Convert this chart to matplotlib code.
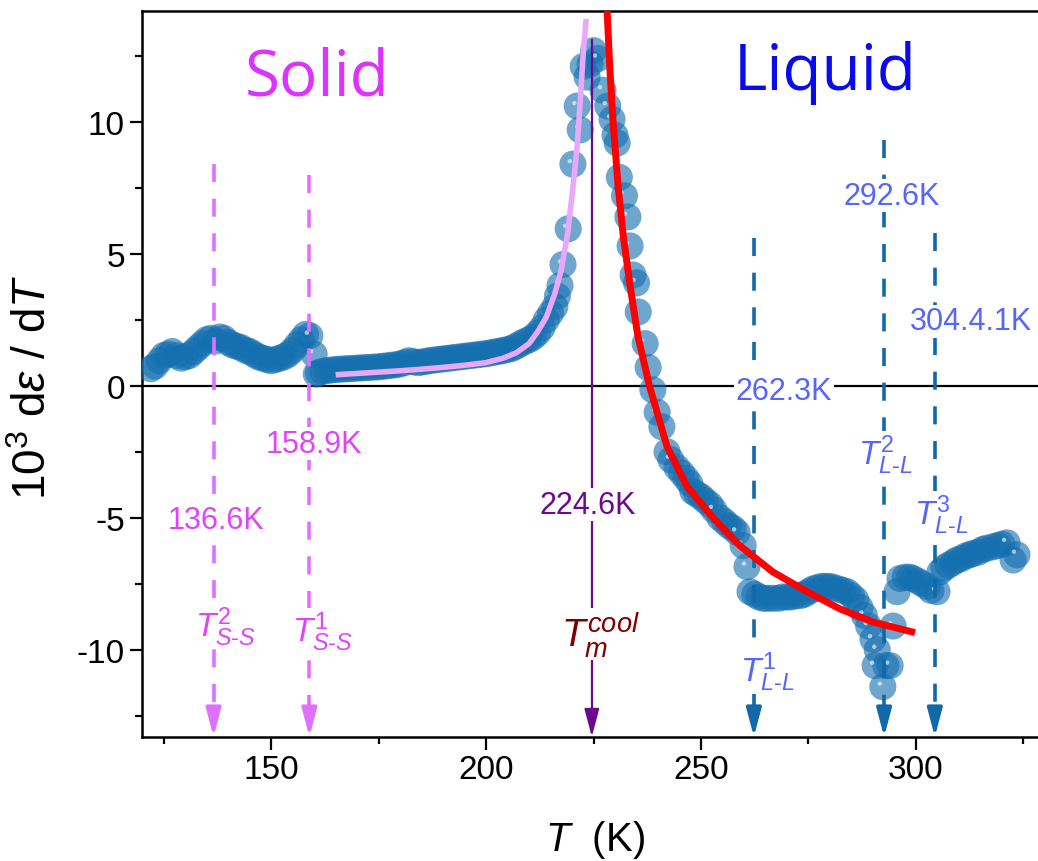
import numpy as np
import matplotlib
matplotlib.use("Agg")
import matplotlib.pyplot as plt
from matplotlib.patches import ArrowStyle

plt.rcParams['font.family'] = ['Liberation Sans', 'DejaVu Sans']
plt.rcParams['mathtext.fontset'] = 'custom'
plt.rcParams['mathtext.rm'] = 'Liberation Sans'
plt.rcParams['mathtext.it'] = 'Liberation Sans:italic'
plt.rcParams['mathtext.bf'] = 'Liberation Sans:bold'
plt.rcParams['axes.unicode_minus'] = False

# measured d(strain)/dT on cooling, x10^3
temp = [122, 123, 124, 125, 126, 127, 128, 129, 130, 131, 132, 133, 134, 135, 136, 137, 138, 139,
        140, 141, 142, 143, 144, 145, 146, 147, 148, 149, 150, 151, 152, 153, 154, 155, 156, 157,
        158, 159, 160, 160.5,
        161, 162, 163, 164, 165, 166, 167, 168, 169, 170, 171, 172, 173, 174, 175, 176, 177, 178,
        179, 180, 181, 182, 183, 184, 185, 186, 187, 188, 189, 190, 191, 192, 193, 194, 195, 196,
        197, 198, 199, 200, 201, 202, 203, 204, 205, 206, 207, 208, 209, 210, 211, 212, 213, 214,
        215, 216, 216.6, 217.2, 217.9, 219.1, 220.2, 221.2, 221.9, 222.6, 223.5, 224.2, 225, 226,
        227.2, 228.3, 229.3, 230, 230.5, 231, 232.2, 233, 233.5, 234.2, 235, 235.4, 237, 237.7,
        238.8, 239.8, 240.9, 242.1, 243, 244.4, 245.5, 246.5, 247.4, 248.1, 249, 250, 251, 252.1,
        253, 254.4, 255.5, 256.5, 257.5, 258.4, 259.8, 260.7, 261.4, 262.5, 263.5, 264.5, 265.5,
        266.7, 268, 269, 270, 271, 272, 273, 274, 275, 276, 277, 278, 279, 280, 281, 282, 283, 284,
        285, 286, 287, 288, 289, 290, 291, 290.5, 292.3, 293, 294, 294.7, 295.6, 296.3, 297.5,
        298.5, 299.3, 300.5, 301.5, 302.6, 303.5, 304.9, 305.6, 306.5, 307.5, 308.6, 309.5, 310.5,
        311.5, 312.5, 313.3, 314.5, 315.5, 316.5, 317.9, 319, 320, 321.2, 322.6, 323.5]
deps = [0.65, 0.75, 0.95, 1.15, 1.2, 1.3, 1.15, 1.05, 1.1, 1.15, 1.3, 1.45, 1.6, 1.75, 1.8, 1.7,
        1.85, 1.8, 1.65, 1.55, 1.5, 1.45, 1.35, 1.3, 1.2, 1.1, 1.05, 1.0, 0.95, 1.0, 1.05, 1.1,
        1.2, 1.35, 1.55, 1.75, 1.95, 1.9, 1.2, 0.45,
        0.5, 0.55, 0.58, 0.6, 0.62, 0.63, 0.64, 0.65, 0.66, 0.67, 0.68, 0.69, 0.7, 0.71, 0.72,
        0.74, 0.76, 0.78, 0.8, 0.83, 0.88, 0.95, 0.92, 0.88, 0.9, 0.93, 0.96, 0.98, 1.0, 1.02,
        1.04, 1.06, 1.08, 1.1, 1.12, 1.14, 1.16, 1.18, 1.2, 1.22, 1.25, 1.28, 1.31, 1.34, 1.38,
        1.42, 1.5, 1.6, 1.68, 1.75, 1.85, 2.0, 2.2, 2.5, 2.75, 3.0, 3.4, 3.8, 4.6, 5.95, 8.4, 10.6,
        9.7, 12.1, 11.7, 12.2, 12.7, 12.4, 11.2, 10.6, 10.1, 9.5, 9.2, 7.9, 7.2, 6.4, 5.3, 4.2,
        3.9, 2.8, 1.6, 0.7, -0.15, -1.0, -1.55, -2.5, -2.8, -3.1, -3.3, -3.5, -3.7, -4.0, -4.1,
        -4.2, -4.35, -4.5, -4.7, -5.0, -5.15, -5.3, -5.4, -5.55, -6.05, -6.85, -7.8, -7.9, -8.0,
        -8.05, -8.05, -8.05, -8.05, -8.0, -8.0, -8.0, -7.95, -7.95, -7.9, -7.8, -7.7, -7.65, -7.6,
        -7.6, -7.6, -7.65, -7.7, -7.75, -7.8, -7.95, -8.1, -8.4, -8.7, -9.1, -9.6, -10.0, -10.6,
        -11.4, -10.6, -10.6, -9.1, -7.8, -7.3, -7.25, -7.25, -7.3, -7.4, -7.5, -7.6, -7.75, -7.8,
        -7.05, -6.9, -6.8, -6.7, -6.6, -6.55, -6.45, -6.4, -6.35, -6.3, -6.2, -6.15, -6.1, -6.05,
        -6.0, -5.95, -6.6, -6.4]

# fitted curves below / above the melting point
fit_solid_t = [165, 170, 175, 180, 185, 190, 195, 200, 204, 207, 210, 212, 214, 216, 217.5, 219,
               220.2, 221.2, 222, 222.6, 223.3]
fit_solid_y = [0.42, 0.47, 0.52, 0.57, 0.63, 0.7, 0.78, 0.88, 1.05, 1.25, 1.6, 2.05, 2.6, 3.5,
               4.4, 5.8, 7.5, 9.1, 11.0, 12.6, 13.9]
fit_liq_t = [228.1, 228.8, 229.5, 230.7, 231.9, 233.5, 235.3, 238, 242.1, 246.7, 252.8, 259,
             266.7, 274.7, 282.3, 290, 299.8]
fit_liq_y = [14.4, 12.0, 10.1, 7.6, 5.7, 3.8, 1.9, 0.0, -2.3, -3.8, -5.0, -6.05, -7.05, -7.8,
             -8.45, -8.95, -9.35]

# transition markers: (T, top of arrow)
ss_temps = [136.6, 158.9]
ss_tops = [8.4, 8.0]
ll_temps = [262.3, 292.6, 304.4]
ll_tops = [5.6, 9.3, 5.8]
tm_temp = 224.6
tm_top = 13.1

ymin, ymax = -13.3, 14.2
xmin, xmax = 120, 328.4

pink = '#e070ff'
pink_txt = '#dd44fb'
blue_line = '#1268a8'
blue_txt = '#5566ff'
purple = '#6a0a90'
ball_alpha = 0.62
ball_ms = 19.5

fig = plt.figure(figsize=(10.38, 8.62), dpi=100)
ax = fig.add_axes([0.137, 0.144, 0.863, 0.842])
ax.set_xlim(xmin, xmax)
ax.set_ylim(ymin, ymax)

# semi-transparent balls, drawn in temperature order
ax.scatter(temp, deps, s=ball_ms ** 2, color='#1570b0', alpha=ball_alpha, edgecolors='none', zorder=3)

# glint up-left of a ball, only where no later ball sits on top of it
pix = ax.transData.transform(np.column_stack([temp, deps]))
radius = ball_ms / 72 * fig.dpi / 2
glint_pix = pix + np.array([-3.0, 3.0])
free = []
for i in range(len(pix)):
    d = np.hypot(*(pix[i + 1:] - glint_pix[i]).T)
    free.append(not np.any(d < radius))
glint_xy = ax.transData.inverted().transform(glint_pix[np.array(free)])
ax.scatter(glint_xy[:, 0], glint_xy[:, 1], s=10, color='white', alpha=0.6, edgecolors='none', zorder=3.5)

ax.plot(fit_solid_t, fit_solid_y, color='#eaa8f8', lw=4, solid_capstyle='butt', zorder=5)
ax.plot(fit_liq_t, fit_liq_y, color='#ff0000', lw=5, solid_capstyle='butt', zorder=5)

ax.axhline(0, color='black', lw=1.6, zorder=2)

head = ArrowStyle('-|>', head_length=1.7, head_width=0.45)


def down_arrow(x, top, color, lw, dashes=None):
    line, = ax.plot([x, x], [top, ymin + 0.9], color=color, lw=lw, zorder=4)
    if dashes:
        line.set_dashes(dashes)
    ax.annotate('', xy=(x, ymin), xytext=(x, ymin + 1.0),
                arrowprops=dict(arrowstyle=head, mutation_scale=10, color=color, lw=lw,
                                shrinkA=0, shrinkB=0),
                zorder=4)


for x, top in zip(ss_temps, ss_tops):
    down_arrow(x, top, pink, 2.6, (5.0, 4.6))
for x, top in zip(ll_temps, ll_tops):
    down_arrow(x, top, blue_line, 2.6, (5.0, 4.6))
down_arrow(tm_temp, tm_top, purple, 1.6)

box = dict(fc='white', ec='none', pad=1)
ax.text(137.2, -5.1, '136.6K', color=pink_txt, fontsize=22, ha='center', va='center', bbox=box, zorder=6)
ax.text(160.0, -2.2, '158.9K', color=pink_txt, fontsize=22, ha='center', va='center', bbox=box, zorder=6)
ax.text(139.5, -9.1, r'$T^{2}_{S‐S}$', color=pink_txt, fontsize=24, ha='center', va='center', bbox=box, zorder=6)
ax.text(161.9, -9.3, r'$T^{1}_{S‐S}$', color=pink_txt, fontsize=24, ha='center', va='center', bbox=box, zorder=6)
ax.text(223.7, -4.5, '224.6K', color=purple, fontsize=22, ha='center', va='center', bbox=box, zorder=6)
ax.text(226.7, -9.4, r'$T_{m}^{cool}$', color='#800000', fontsize=28, ha='center', va='center', bbox=box, zorder=6)
ax.text(269.3, -0.2, '262.3K', color=blue_txt, fontsize=22, ha='center', va='center', bbox=box, zorder=6)
ax.text(265.3, -10.8, r'$T^{1}_{L‐L}$', color=blue_txt, fontsize=24, ha='center', va='center', bbox=box, zorder=6)
ax.text(294.4, 7.2, '292.6K', color=blue_txt, fontsize=22, ha='center', va='center', bbox=box, zorder=6)
ax.text(292.8, -2.6, r'$T^{2}_{L‐L}$', color=blue_txt, fontsize=24, ha='center', va='center', bbox=box, zorder=6)
ax.text(312.8, 2.45, '304.4.1K', color=blue_txt, fontsize=22, ha='center', va='center', bbox=box, zorder=6)
ax.text(306.0, -4.85, r'$T^{3}_{L‐L}$', color=blue_txt, fontsize=24, ha='center', va='center', bbox=box, zorder=6)

ax.text(160.7, 11.7, 'Solid', color='#dd33ff', fontsize=46, family='Open Sans', ha='center', va='center')
ax.text(278.8, 11.9, 'Liquid', color='#0a0aee', fontsize=46, family='Open Sans', ha='center', va='center')

ax.set_xticks([150, 200, 250, 300])
ax.set_xticks(np.arange(125, 330, 25), minor=True)
ax.set_yticks([-10, -5, 0, 5, 10])
ax.set_yticks(np.arange(-12.5, 14, 2.5), minor=True)
ax.tick_params(which='major', length=9, width=1.6, labelsize=24, direction='out')
ax.tick_params(which='minor', length=5, width=1.6, direction='out')
for s in ['left', 'bottom', 'top']:
    ax.spines[s].set_linewidth(1.8)
ax.spines['right'].set_visible(False)

ax.set_xlabel(r'$T$  (K)', fontsize=29)
ax.xaxis.set_label_coords(0.506, -0.112)
ax.set_ylabel(r'$10^3$ d$\mathit{ε}$ / d$T$', fontsize=33)
ax.yaxis.set_label_coords(-0.096, 0.483)

fig.savefig('out.png', dpi=100)
